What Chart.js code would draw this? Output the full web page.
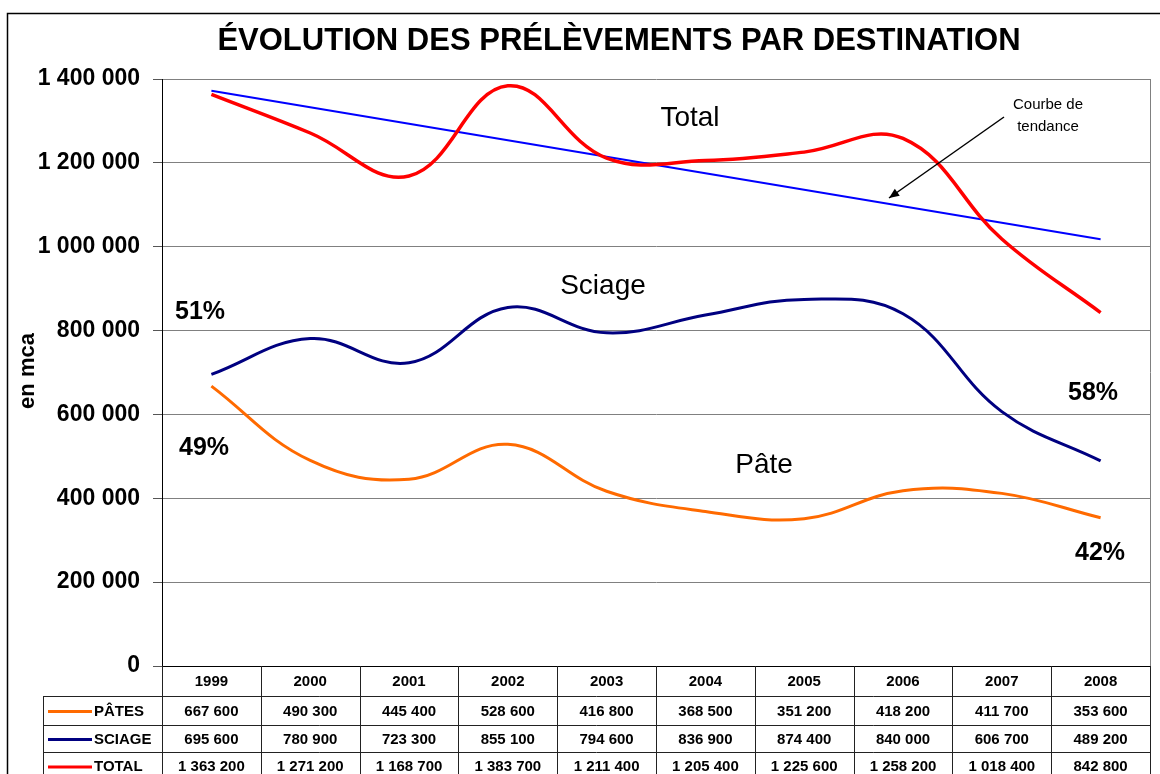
<!DOCTYPE html>
<html>
<head>
<meta charset="utf-8">
<script src="https://cdn.jsdelivr.net/npm/chart.js@4/dist/chart.umd.min.js"></script>
<style>
  html, body { margin: 0; padding: 0; background: #fff; }
  #wrap { width: 1160px; height: 774px; position: relative; }
</style>
</head>
<body>
<div id="wrap"><canvas id="chart" width="1160" height="774"></canvas></div>
<script>
const years = ['1999', '2000', '2001', '2002', '2003', '2004', '2005', '2006', '2007', '2008'];
const pates = [667600, 490300, 445400, 528600, 416800, 368500, 351200, 418200, 411700, 353600];
const sciage = [695600, 780900, 723300, 855100, 794600, 836900, 874400, 840000, 606700, 489200];
const total = [1363200, 1271200, 1168700, 1383700, 1211400, 1205400, 1225600, 1258200, 1018400, 842800];
// trend line, ends
const trend = [1372000, null, null, null, null, null, null, null, null, 1018000];
const yMax = 1400000;
const yStep = 200000;

const rows = [
  { label: 'PÂTES', color: '#ff6a00', values: pates },
  { label: 'SCIAGE', color: '#000080', values: sciage },
  { label: 'TOTAL', color: '#ff0000', values: total }
];

const FONT = '"Liberation Sans", Arial, sans-serif';

function fmt(n) {
  return String(n).replace(/\B(?=(\d{3})+(?!\d))/g, ' ');
}

// extras: frame, title, table under the axis, labels and arrow
const extras = {
  id: 'extras',
  afterDraw(chart) {
    const ctx = chart.ctx;
    const area = chart.chartArea;
    const x = chart.scales.x;
    ctx.save();

    // outer frame
    ctx.strokeStyle = '#000';
    ctx.lineWidth = 1.5;
    ctx.strokeRect(7.5, 13.5, 1200, 800);

    // plot right border
    ctx.strokeStyle = '#808080';
    ctx.lineWidth = 1;
    ctx.beginPath();
    ctx.moveTo(area.right + 0.5, area.top);
    ctx.lineTo(area.right + 0.5, area.bottom);
    ctx.stroke();

    // title
    ctx.fillStyle = '#000';
    ctx.font = 'bold 31px ' + FONT;
    ctx.textAlign = 'center';
    ctx.textBaseline = 'middle';
    ctx.fillText('ÉVOLUTION DES PRÉLÈVEMENTS PAR DESTINATION', 619, 41);

    // y title
    ctx.save();
    ctx.translate(28, 371);
    ctx.rotate(-Math.PI / 2);
    ctx.font = 'bold 22px ' + FONT;
    ctx.fillText('en mca', 0, 0);
    ctx.restore();

    // data table
    const rowY = [area.bottom, 696, 725, 752, 780];
    const step = x.getPixelForValue(1) - x.getPixelForValue(0);
    const colEdges = years.map((_, i) => x.getPixelForValue(i) - step / 2);
    colEdges.push(x.getPixelForValue(years.length - 1) + step / 2);
    const tblLeft = 43;

    ctx.strokeStyle = '#222';
    ctx.lineWidth = 1;
    ctx.beginPath();
    colEdges.forEach((cx) => {
      const px = Math.round(cx) + 0.5;
      ctx.moveTo(px, rowY[0]);
      ctx.lineTo(px, rowY[4]);
    });
    for (let r = 1; r < rowY.length; r++) {
      ctx.moveTo(tblLeft, rowY[r] + 0.5);
      ctx.lineTo(colEdges[colEdges.length - 1], rowY[r] + 0.5);
    }
    ctx.moveTo(tblLeft + 0.5, rowY[1]);
    ctx.lineTo(tblLeft + 0.5, rowY[4]);
    ctx.stroke();

    ctx.font = 'bold 15px ' + FONT;
    ctx.textAlign = 'center';
    years.forEach((y, i) => {
      ctx.fillText(y, x.getPixelForValue(i), (rowY[0] + rowY[1]) / 2 + 1);
    });
    rows.forEach((row, r) => {
      const cy = (rowY[r + 1] + rowY[r + 2]) / 2 + 1;
      ctx.strokeStyle = row.color;
      ctx.lineWidth = 3;
      ctx.beginPath();
      ctx.moveTo(48, cy);
      ctx.lineTo(92, cy);
      ctx.stroke();
      ctx.textAlign = 'left';
      ctx.fillText(row.label, 94, cy);
      ctx.textAlign = 'center';
      row.values.forEach((v, i) => {
        ctx.fillText(fmt(v), x.getPixelForValue(i), cy);
      });
    });

    // curve labels
    ctx.font = '28px ' + FONT;
    ctx.fillText('Total', 690, 118);
    ctx.fillText('Sciage', 603, 286);
    ctx.fillText('Pâte', 764, 465);

    ctx.font = 'bold 25px ' + FONT;
    ctx.fillText('51%', 200, 312);
    ctx.fillText('49%', 204, 448);
    ctx.fillText('58%', 1093, 393);
    ctx.fillText('42%', 1100, 553);

    // trend note and arrow
    ctx.font = '15px ' + FONT;
    ctx.fillText('Courbe de', 1048, 105);
    ctx.fillText('tendance', 1048, 127);

    const ax0 = 1004, ay0 = 117, ax1 = 889, ay1 = 198;
    ctx.strokeStyle = '#000';
    ctx.lineWidth = 1.5;
    ctx.beginPath();
    ctx.moveTo(ax0, ay0);
    ctx.lineTo(ax1, ay1);
    ctx.stroke();
    const ang = Math.atan2(ay1 - ay0, ax1 - ax0);
    ctx.fillStyle = '#000';
    ctx.beginPath();
    ctx.moveTo(ax1, ay1);
    ctx.lineTo(ax1 - 11 * Math.cos(ang - 0.4), ay1 - 11 * Math.sin(ang - 0.4));
    ctx.lineTo(ax1 - 11 * Math.cos(ang + 0.4), ay1 - 11 * Math.sin(ang + 0.4));
    ctx.closePath();
    ctx.fill();

    ctx.restore();
  }
};

new Chart(document.getElementById('chart').getContext('2d'), {
  type: 'line',
  data: {
    labels: years,
    datasets: [
      { label: 'TOTAL', data: total, borderColor: '#ff0000', borderWidth: 3.5, tension: 0.4, pointRadius: 0 },
      { label: 'SCIAGE', data: sciage, borderColor: '#000080', borderWidth: 3, tension: 0.4, pointRadius: 0 },
      { label: 'PÂTES', data: pates, borderColor: '#ff6a00', borderWidth: 3, tension: 0.4, pointRadius: 0 },
      { label: 'Tendance', data: trend, borderColor: '#0000ff', borderWidth: 2, tension: 0, pointRadius: 0, spanGaps: true }
    ]
  },
  options: {
    responsive: false,
    animation: false,
    layout: { padding: { top: 79, right: 10, left: 0, bottom: 0 } },
    plugins: {
      legend: { display: false },
      tooltip: { enabled: false },
      title: { display: false }
    },
    scales: {
      x: {
        offset: true,
        ticks: { display: false },
        grid: { display: false },
        border: { display: true, color: '#000', width: 1 },
        afterFit(scale) { scale.height = 108; }
      },
      y: {
        min: 0,
        max: yMax,
        ticks: {
          stepSize: yStep,
          color: '#000',
          padding: 13,
          font: { family: FONT, size: 23, weight: 'bold' },
          callback: (v) => fmt(v)
        },
        grid: { color: '#808080', tickColor: '#555', tickLength: 9, lineWidth: 1 },
        border: { display: true, color: '#000', width: 1 },
        afterFit(scale) { scale.width = 162; }
      }
    }
  },
  plugins: [extras]
});
</script>
</body>
</html>
